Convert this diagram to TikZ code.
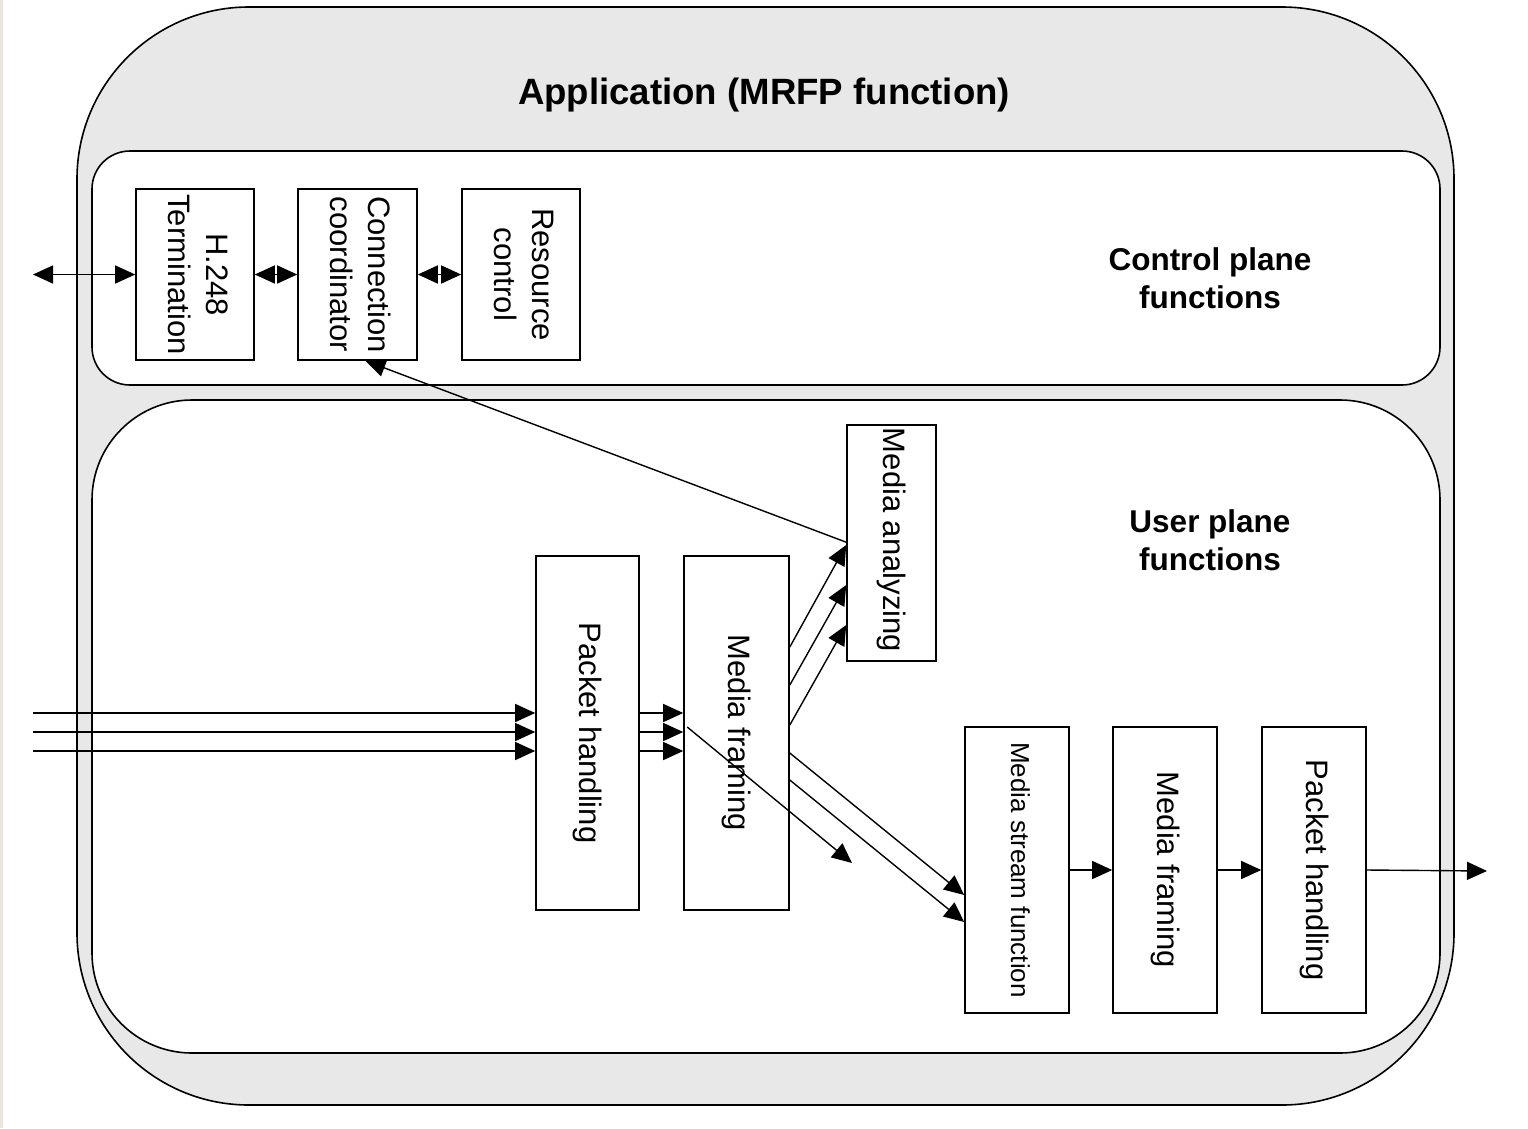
\documentclass[tikz,border=0pt]{standalone}
\usepackage{fontspec}
\setmainfont{Liberation Sans}
\usepackage{graphicx}
\usetikzlibrary{arrows.meta,calc}

\definecolor{shell}{HTML}{E8E8E8}
\definecolor{strip}{HTML}{E8E6DE}

\newcommand{\vtext}[1]{\rotatebox{-90}{\begin{tabular}{@{}c@{}}#1\end{tabular}}}

\tikzset{
  fbox/.style={draw, line width=1.6pt, fill=white, inner sep=0pt,
    font=\fontsize{31}{38}\selectfont},
  arr/.style={line width=1.4pt, -{Triangle[length=20pt,width=18pt]}},
  dbl/.style={line width=1.4pt, {Triangle[length=20pt,width=18pt]}-{Triangle[length=20pt,width=18pt]}},
  heading/.style={font=\fontsize{31.5}{38}\selectfont\bfseries, align=center},
  plane/.style={draw, line width=1.6pt, fill=white},
}

\begin{document}
\begin{tikzpicture}[x=1pt,y=-1pt]
\useasboundingbox (0,0) rectangle (1528,1128);
\fill[white] (0,0) rectangle (1528,1128);
\fill[strip] (0,0) rectangle (3,1128);

% outer application shell and the two planes
\draw[line width=1.6pt, fill=shell, rounded corners=172pt] (77,7) rectangle (1454,1105);
\draw[plane, rounded corners=38pt] (92,151) rectangle (1440,385);
\draw[plane, rounded corners=100pt] (92,400) rectangle (1440,1053);

% titles
\node[font=\fontsize{36.6}{42}\selectfont\bfseries] (app) at (764,95) {Application (MRFP function)};
\node[heading] (cp) at (1210,278) {Control plane\\functions};
\node[heading] (up) at (1210,540) {User plane\\functions};

% control plane blocks
\node[fbox, minimum width=118pt, minimum height=171pt] (h248) at (195,274.5) {\vtext{H.248\\Termination}};
\node[fbox, minimum width=119pt, minimum height=171pt] (conn) at (357.5,274.5) {\vtext{Connection\\coordinator}};
\node[fbox, minimum width=118pt, minimum height=171pt] (res) at (521,274.5) {\vtext{Resource\\control}};

% user plane blocks
\node[fbox, minimum width=103pt, minimum height=354pt] (ph1) at (587.5,733) {\vtext{Packet handling}};
\node[fbox, minimum width=105pt, minimum height=354pt] (mf1) at (736.5,733) {\vtext{Media framing}};
\node[fbox, minimum width=89pt, minimum height=236pt] (ma) at (891.5,543) {\vtext{Media analyzing\hspace*{6pt}}};
\node[fbox, minimum width=104pt, minimum height=286pt, font=\fontsize{26}{30}\selectfont] (ms) at (1017,870) {\vtext{Media stream function}};
\node[fbox, minimum width=104pt, minimum height=286pt] (mf2) at (1165,870) {\vtext{Media framing}};
\node[fbox, minimum width=104pt, minimum height=286pt] (ph2) at (1314,870) {\vtext{Packet handling}};

% free ends
\coordinate (ext) at (33,274.5);
\coordinate (in1) at (33,713);
\coordinate (in2) at (33,732);
\coordinate (in3) at (33,751);
\coordinate (stray) at (852,863);
\coordinate (out) at (1487,871);

% control connectors
\draw[dbl] (ext) -- (h248.west);
\draw[dbl] (h248.east) -- (conn.west);
\draw[dbl] (conn.east) -- (res.west);
\draw[arr] ([yshift=-118pt]ma.north west) -- ([xshift=8pt]conn.south);

% incoming streams
\foreach \c in {in1,in2,in3} {
  \draw[arr] (\c) -- (\c -| ph1.west);
  \draw[arr] (\c -| ph1.east) -- (\c -| mf1.west);
}

% media framing to analyzing
\draw[arr] ([yshift=86pt]mf1.east) -- ([yshift=-2pt]ma.west);
\draw[arr] ([yshift=48pt]mf1.east) -- ([yshift=-42pt]ma.west);
\draw[arr] ([yshift=8pt]mf1.east) -- ([yshift=-82pt]ma.west);

% media framing to stream function
\draw[arr] ([yshift=-20pt]mf1.east) -- ([yshift=-25pt]ms.west);
\draw[arr] ([yshift=-47pt]mf1.east) -- ([yshift=-52pt]ms.west);
\draw[arr] ([xshift=4pt,yshift=6pt]mf1.west) -- (stray);

% outgoing chain
\draw[arr] (ms.east) -- (mf2.west);
\draw[arr] (mf2.east) -- (ph2.west);
\draw[arr] (ph2.east) -- (out);
\end{tikzpicture}
\end{document}
